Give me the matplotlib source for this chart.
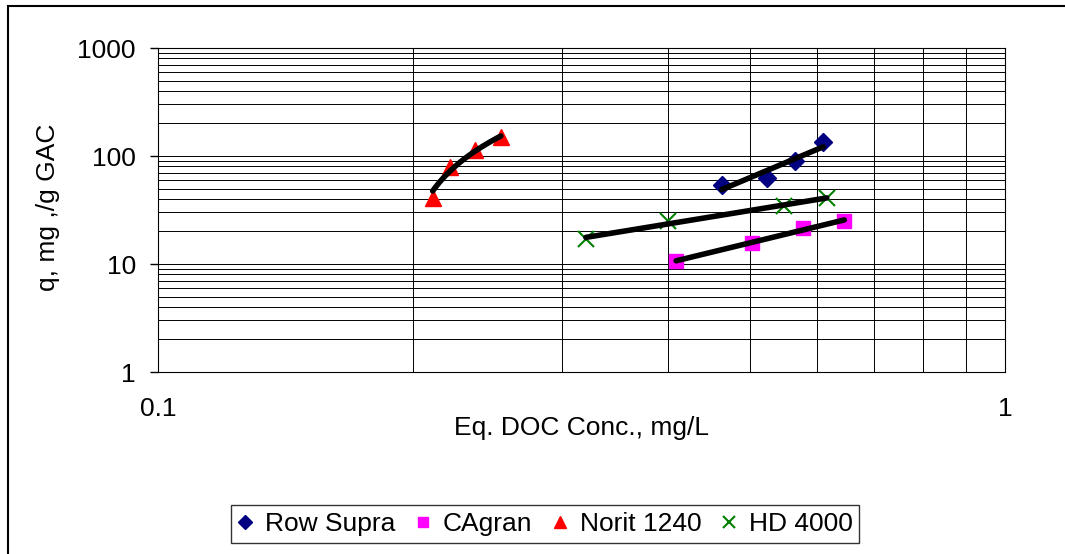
import numpy as np
import matplotlib.pyplot as plt
from matplotlib.patches import Rectangle
from matplotlib.ticker import LogLocator, NullFormatter, FixedLocator, FixedFormatter

plt.rcParams['font.family'] = ['Liberation Sans', 'DejaVu Sans']

# Isotherm data: equilibrium DOC (mg/L) vs loading q (mg/g GAC)
row_x = [0.463, 0.524, 0.565, 0.610]
row_q = [54, 63, 90, 135]
cag_x = [0.409, 0.503, 0.577, 0.646]
cag_q = [10.7, 15.6, 21.5, 25.0]
nor_x = [0.211, 0.221, 0.237, 0.254]
nor_q = [41, 79, 114, 150]
hd_x = [0.320, 0.400, 0.548, 0.616]
hd_q = [17.0, 25.0, 34.4, 40.8]

W, H = 1065, 554
FS = 19

fig = plt.figure(figsize=(W / 100, H / 100), dpi=100)
ax = fig.add_axes([158 / W, 1 - 372 / H, 847 / W, 324 / H])

ax.plot(row_x, row_q, 'D', color='#000080', ms=9, ls='none', label='Row Supra', zorder=3)
ax.plot(cag_x, cag_q, 's', color='#ff00ff', ms=10, ls='none', label='CAgran', zorder=3)
ax.plot(nor_x, nor_q, '^', color='#ff0000', ms=11, ls='none', label='Norit 1240', zorder=3)
ax.plot(hd_x, hd_q, 'x', color='#008000', ms=11, mew=1.5, ls='none', label='HD 4000', zorder=3)

# power trendlines (straight on log-log)
for xs, qs in [(row_x, row_q), (cag_x, cag_q), (hd_x, hd_q)]:
    b, a = np.polyfit(np.log10(xs), np.log10(qs), 1)
    xx = np.linspace(min(xs), max(xs), 50)
    ax.plot(xx, 10 ** (a + b * np.log10(xx)), color='black', lw=4,
            solid_capstyle='round', zorder=4)

# linear trendline for Norit 1240
b, a = np.polyfit(nor_x, nor_q, 1)
xx = np.linspace(min(nor_x), max(nor_x), 50)
ax.plot(xx, a + b * xx, color='black', lw=4, solid_capstyle='round', zorder=4)

ax.set_xscale('log')
ax.set_yscale('log')
ax.set_xlim(0.1, 1)
ax.set_ylim(1, 1000)

ax.xaxis.set_major_locator(FixedLocator([0.1, 1]))
ax.xaxis.set_major_formatter(FixedFormatter(['0.1', '1']))
ax.xaxis.set_minor_locator(LogLocator(base=10, subs=np.arange(2, 10)))
ax.xaxis.set_minor_formatter(NullFormatter())
ax.yaxis.set_major_locator(FixedLocator([1, 10, 100, 1000]))
ax.yaxis.set_major_formatter(FixedFormatter(['1', '10', '100', '1000']))
ax.yaxis.set_minor_locator(LogLocator(base=10, subs=np.arange(2, 10)))
ax.yaxis.set_minor_formatter(NullFormatter())

ax.grid(True, which='both', color='black', lw=0.7)
ax.tick_params(axis='y', which='major', labelsize=FS, length=6, width=1, color='black', pad=10)
ax.tick_params(axis='x', which='major', labelsize=FS, length=0, pad=18)
ax.tick_params(axis='both', which='minor', length=0)
for s in ax.spines.values():
    s.set_color('black')
    s.set_linewidth(0.8)

fig.text(582 / W, 1 - 428 / H, 'Eq. DOC Conc., mg/L', fontsize=FS, ha='center', va='center')
fig.text(48 / W, 1 - 207 / H, 'q, mg ,/g GAC', fontsize=FS, ha='center', va='center',
         rotation=90)

fig.legend(loc='center', bbox_to_anchor=(545 / W, 1 - 524 / H), ncol=4,
           fontsize=FS, frameon=True, fancybox=False, edgecolor='black',
           markerscale=0.75, handlelength=0.6, handletextpad=0.45,
           columnspacing=0.75, borderpad=0.25, borderaxespad=0)

# outer chart frame
fig.patches.append(Rectangle((8 / W, -0.1), 1.2, 1 - 6 / H + 0.1, transform=fig.transFigure,
                             fill=False, edgecolor='black', lw=1.5))

fig.savefig('out.png', dpi=100)
